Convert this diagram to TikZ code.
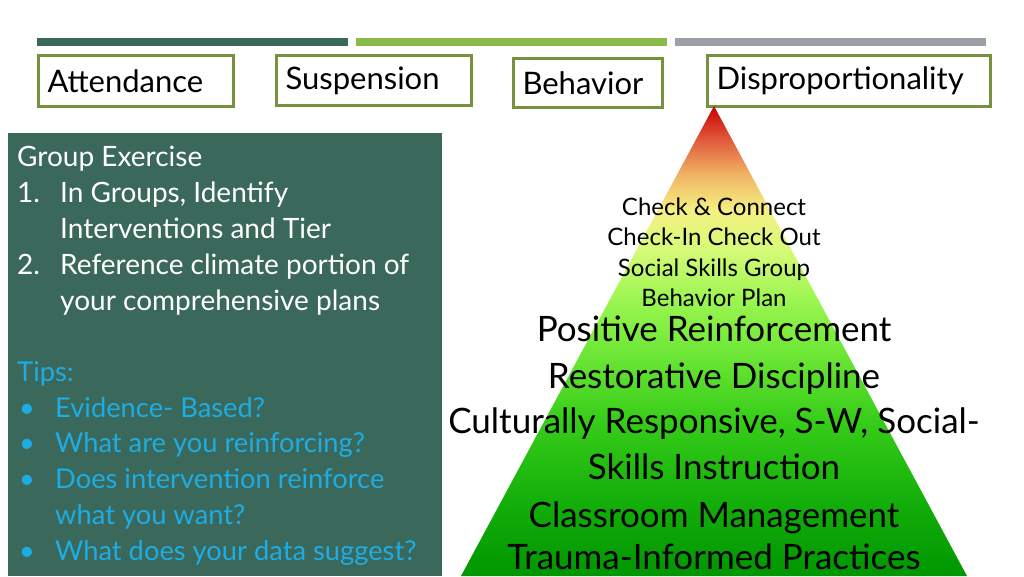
\documentclass[tikz,border=0pt]{standalone}
\usepackage{fontspec}
\setmainfont{Lato}
\usepackage{tikz}

\definecolor{panelgreen}{RGB}{58,104,90}
\definecolor{barlime}{RGB}{140,185,75}
\definecolor{bargray}{RGB}{155,160,166}
\definecolor{boxolive}{RGB}{118,146,60}
\definecolor{tipblue}{RGB}{30,172,228}

\pgfdeclareverticalshading{pyramidshade}{100bp}{%
  color(0bp)=(rgb,255:red,0;green,150;blue,0);
  color(25bp)=(rgb,255:red,0;green,150;blue,0);
  color(33.1bp)=(rgb,255:red,20;green,175;blue,10);
  color(41.6bp)=(rgb,255:red,55;green,205;blue,25);
  color(50.1bp)=(rgb,255:red,120;green,235;blue,60);
  color(54.4bp)=(rgb,255:red,155;green,245;blue,80);
  color(59.7bp)=(rgb,255:red,215;green,250;blue,120);
  color(63.9bp)=(rgb,255:red,245;green,240;blue,130);
  color(67.7bp)=(rgb,255:red,240;green,180;blue,100);
  color(71.4bp)=(rgb,255:red,225;green,90;blue,60);
  color(75bp)=(rgb,255:red,200;green,0;blue,0);
  color(100bp)=(rgb,255:red,200;green,0;blue,0)}

\tikzset{
  topic/.style={draw=boxolive, line width=3pt, fill=white, anchor=north west,
    inner xsep=9pt, inner ysep=0pt, align=left,
    font=\fontsize{31}{31}\selectfont},
  paneltext/.style={anchor=base west, inner sep=0pt, text=white,
    font=\fontsize{28}{28}\selectfont},
  tiptext/.style={paneltext, text=tipblue, font=\fontsize{27.3}{28}\selectfont},
  smalltier/.style={anchor=base, inner sep=0pt, font=\fontsize{24}{24}\selectfont},
  bigtier/.style={anchor=base, inner sep=0pt, font=\fontsize{35}{35}\selectfont}
}

\begin{document}
\begin{tikzpicture}[x=1pt, y=-1pt]
  \useasboundingbox (0,0) rectangle (1024,576);

  % bars on top
  \fill[panelgreen] (37,38) rectangle (348,46);
  \fill[barlime] (356,38) rectangle (667,46);
  \fill[bargray] (675,38) rectangle (986,46);

  % topics
  \node[topic, text width=177pt, minimum height=51pt] (attendance) at (37,54) {Attendance};
  \node[topic, text width=177pt, minimum height=50pt] (suspension) at (275,54) {Suspension};
  \node[topic, text width=131pt, minimum height=49pt] (behavior) at (512,57) {Behavior};
  \node[topic, text width=265pt, minimum height=51pt] (dispro) at (706,54) {Disproportionality};

  % exercise panel
  \fill[panelgreen] (8,133) rectangle (442,576);
  \node[paneltext] (exercise) at (17,166) {Group Exercise};
  \node[paneltext] (num1) at (17,202) {1.};
  \node[paneltext] (step1a) at (60,202) {In Groups, Identify};
  \node[paneltext] (step1b) at (60,238) {Interventions and Tier};
  \node[paneltext] (num2) at (17,274) {2.};
  \node[paneltext] (step2a) at (60,274) {Reference climate portion of};
  \node[paneltext] (step2b) at (60,310) {your comprehensive plans};
  \node[tiptext] (tips) at (17,381) {Tips:};
  \node[tiptext] (dot1) at (19,417) {•};
  \node[tiptext] (tip1) at (55,417) {Evidence- Based?};
  \node[tiptext] (dot2) at (19,452) {•};
  \node[tiptext] (tip2) at (55,452) {What are you reinforcing?};
  \node[tiptext] (dot3) at (19,488) {•};
  \node[tiptext] (tip3a) at (55,488) {Does intervention reinforce};
  \node[tiptext] (tip3b) at (55,524) {what you want?};
  \node[tiptext] (dot4) at (19,560) {•};
  \node[tiptext] (tip4) at (55,560) {What does your data suggest?};

  % pyramid
  \shade[shading=pyramidshade] (714,106) -- (967,576) -- (461,576) -- cycle;
  \node[smalltier] (tierc1) at (714,215) {Check \& Connect};
  \node[smalltier] (tierc2) at (714,245) {Check-In Check Out};
  \node[smalltier] (tierc3) at (714,276) {Social Skills Group};
  \node[smalltier] (tierc4) at (714,306) {Behavior Plan};
  \node[bigtier] (tiera1) at (714,341) {Positive Reinforcement};
  \node[bigtier] (tiera2) at (714,388) {Restorative Discipline};
  \node[bigtier] (tiera3) at (714,433) {Culturally Responsive, S-W, Social-};
  \node[bigtier] (tiera4) at (714,479) {Skills Instruction};
  \node[bigtier] (tiera5) at (714,527) {Classroom Management};
  \node[bigtier] (tiera6) at (714,569) {Trauma-Informed Practices};
\end{tikzpicture}
\end{document}
